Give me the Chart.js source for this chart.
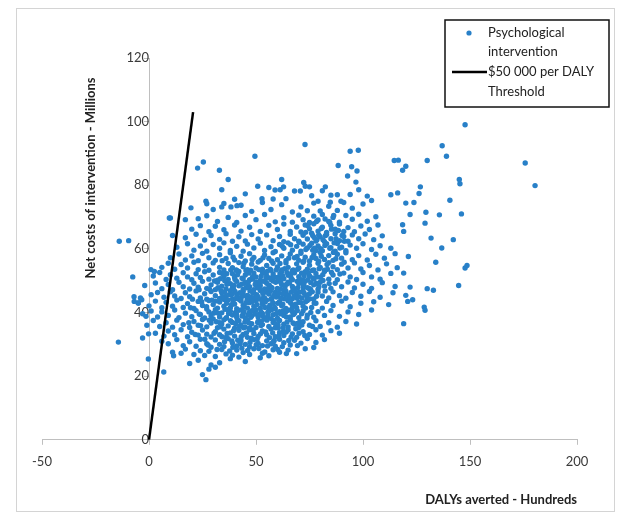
<!DOCTYPE html>
<html>
<head>
<meta charset="utf-8">
<script src="https://cdn.jsdelivr.net/npm/chart.js@4.4.1/dist/chart.umd.min.js"></script>
<style>
  html, body { margin: 0; padding: 0; background: #fff; }
  #wrap { position: relative; width: 619px; height: 512px; }
</style>
</head>
<body>
<div id="wrap"><canvas id="daly-chart" width="619" height="512"></canvas></div>
<script>
const xTickValues = [-50, 0, 50, 100, 150, 200];
const yTickValues = [0, 20, 40, 60, 80, 100, 120];
const xAxisTitle = 'DALYs averted - Hundreds';
const yAxisTitle = 'Net costs of intervention - Millions';
const seriesNames = ['Psychological', 'intervention', '$50 000 per DALY', 'Threshold'];

// threshold line: $50 000 per DALY (x in hundreds of DALYs, y in millions)
const thresholdDalys = [0, 20.6];
const thresholdCosts = [0, 103];

// simulated results as [DALYs averted, net cost]
const outlierPoints = [
    [147.7,99],[137,92.4],[139,89.1],[130,87.8],[120,86],[118.5,84.7],[175.8,87],[180.4,79.9],[145.3,80.5],[145,81.8],
    [126.8,79.5],[126.2,77.4],[123.8,74.6],[140.6,75.3],[122,70.8],[129.4,71.5],[135.7,70.7],[146,71],[129,68.1],[118.5,67.6],
    [119,65.5],[131.8,63.4],[136.8,60.3],[142.2,62.9],[121.2,57.6],[134,55.8],[147.7,54],[148.6,54.8],[119,52.4],[122,48],
    [130,47.5],[132.9,47],[144.7,48.5],[120.9,43.5],[123.2,44],[128.6,41.7],[129,40.7],[119,36.5],
    [72.9,92.8],[49.5,89.1],[94,90.7],[97.8,91],[114.6,87.8],[116.5,87.9],[88.4,86.2],[94.7,85.8],[97.2,84.5],[62,81.8],
    [50.8,79.7],[72.3,80.9],[70.7,78.2],[75,79.5],[92.8,82.9],[96.7,81],[82.4,79.5],[58.9,78.5],[61.3,78.6],[62.9,79.5],
    [113,77],[116.2,77.6],[102,76.6],[104,75.2],[52.8,75.8],[58,75.7],[88,77],[89.7,75],[120,74.4],[79,75],[84.7,74.7],
    [25.4,87.3],[22.7,85.4],[32.9,84.7],[37,81.8],[26.6,75],[27,74.2],[19.6,72.9],[34,73.2],[38.3,73.2],[41.1,73.6],
    [10,69.7],[17,69.2],[9.5,69.7],[11,64.2],
    [-13.9,62.4],[-9.5,62.6],[-7.6,51.2],[0.9,53.5],[2.5,52.9],[-6.9,43.5],[-5,43],[-3.4,44],[-1.4,38.8],[-14.3,30.7],
    [-3,32],[-0.2,33.3],[-0.3,25.4],[6.9,21.3],[11.5,26.4],[26.6,18.9]
];

const cloudPoints = [
    [25,20.5],[28,22.2],[31,22.8],[29,23.5],[19,24],[33,24.2],[45,24.6],[23,25],[38,25.5],[52,25.8],[42,26],
    [11,27.5],[15,27.2],[17,28.5],[21,26.8],[24,28],[26,26.5],[28,27.8],[31,26.2],[34,28.4],[36,27],[39,26.6],[41,28.2],
    [44,27.4],[47,26.8],[49,28.6],[53,27.2],[56,26.4],[58,28.3],[61,27.5],[65,28.2],[69,27.1],[73,28.6],[77,29],
    [6,31],[9,30.2],[13,31.5],[16,29.6],[19,30.8],[22,29.4],[24,31.6],[27,30.2],[29,29.1],[31,31.4],[33,30],[35,29.3],
    [37,31.8],[39,30.4],[41,29.5],[43,31.2],[45,30],[47,29.2],[49,31.5],[51,30.3],[53,29.6],[55,31.1],[57,30.2],[59,29.4],
    [61,31.6],[63,30.5],[66,29.8],[68,31.3],[71,30.4],[74,31.8],[78,30.6],[82,31.5],
    [3,33.5],[7,32.6],[9,34.2],[12,33],[15,34.6],[18,32.4],[20,33.8],[23,32.9],[25,34.5],[27,33.2],[29,32.3],[31,34],
    [33,33],[35,34.8],[36,32.2],[38,33.6],[40,32.6],[42,34.4],[44,33.1],[46,32.2],[47,34.6],[49,33.4],[51,32.5],[53,34.2],
    [55,33],[57,34.8],[59,32.4],[61,33.7],[63,32.8],[65,34.5],[67,33.3],[69,32.2],[72,34],[75,33.1],[78,34.6],[81,32.9],
    [85,34.3],[89,33.5],
    [-1,36],[2,37.5],[5,35.6],[8,36.8],[11,35.4],[13,37.6],[16,36.2],[19,35.3],[21,37.2],[23,36],[25,37.8],[27,35.5],
    [29,36.7],[30,38],[32,35.2],[34,36.4],[35,37.7],[37,35.8],[39,36.9],[40,35.1],[42,37.4],[43,36.1],[45,35.4],[46,37.6],
    [48,36.5],[50,35.3],[51,37.2],[53,36.2],[54,38],[56,35.6],[58,36.9],[59,35.2],[61,37.5],[63,36.3],[65,35.5],[66,37.8],
    [68,36.4],[70,35.3],[72,37.1],[75,36],[78,37.4],[80,35.6],[84,36.8],[88,35.4],[92,37.2],[97,36.4],
    [-3,39.6],[1,40.5],[4,38.6],[6,40.2],[9,39.1],[12,40.8],[14,38.4],[17,39.8],[20,38.7],[22,40.6],[24,39.4],[26,38.3],
    [28,40.2],[29,39],[31,40.9],[33,38.6],[34,39.9],[36,38.2],[38,40.4],[39,39.2],[41,38.5],[42,40.7],[44,39.6],[45,38.3],
    [47,40.1],[48,39],[50,40.8],[51,38.6],[53,39.7],[55,38.4],[56,40.5],[58,39.3],[60,38.2],[61,40.3],[63,39.1],[65,40.7],
    [66,38.6],[68,39.8],[70,38.4],[72,40.5],[74,39.2],[77,38.5],[79,40.3],[82,39.1],[85,40.6],[89,38.8],[93,40.2],[98,39.4],
    [104,40.8],
    [-5,43],[0,42.1],[3,43.6],[6,41.5],[8,43.2],[11,42],[13,43.9],[16,41.6],[18,42.8],[21,41.3],[23,43.5],[25,42.2],
    [27,41.1],[28,43.8],[30,42.5],[32,41.4],[33,43.3],[35,42],[37,43.9],[38,41.5],[40,42.7],[41,41.2],[43,43.6],[44,42.3],
    [46,41.4],[47,43.1],[49,42],[50,43.8],[52,41.3],[53,42.6],[55,43.9],[56,41.7],[58,42.9],[59,41.2],[61,43.4],[62,42.1],
    [64,41.3],[65,43.7],[67,42.4],[69,41.5],[70,43.2],[72,42],[74,43.8],[76,41.6],[78,42.9],[81,41.4],[83,43.5],[86,42.2],
    [90,43.6],[94,41.8],[99,42.9],[105,43.4],[112,42.5],
    [-7,45],[-4,44.6],[1,45.6],[4,46.3],[7,44.8],[10,46.5],[12,45.2],[15,44.4],[17,46.2],[19,45],[22,46.8],[24,44.6],
    [26,45.9],[27,44.2],[29,46.6],[31,45.3],[33,44.4],[34,46.2],[36,45.1],[38,46.9],[39,44.3],[41,45.7],[43,44.5],[44,46.6],
    [46,45.4],[48,44.2],[49,46.1],[51,45],[52,46.9],[54,44.6],[56,45.8],[57,44.2],[59,46.4],[60,45.2],[62,44.5],[64,46.7],
    [65,45.5],[67,44.3],[69,46.2],[70,45],[72,46.8],[74,44.6],[75,45.9],[77,44.3],[79,46.4],[81,45.2],[84,44.6],[86,46.5],
    [89,45.3],[92,44.5],[95,46.3],[99,45.1],[103,46.6],[108,44.8],[114,46.2],[120,45.4],
    [-2,48.5],[3,49.3],[6,47.5],[9,48.8],[11,47.2],[14,49.5],[16,48.1],[19,47.4],[21,49.2],[23,48],[25,49.8],[27,47.6],
    [29,48.7],[31,47.2],[32,49.5],[34,48.3],[36,47.4],[38,49.1],[39,47.9],[41,49.8],[42,48.4],[44,47.3],[45,49.4],[47,48.1],
    [49,47.2],[50,49.6],[52,48.5],[54,47.4],[55,49.2],[57,48],[58,49.9],[60,47.6],[62,48.8],[63,47.2],[65,49.5],[67,48.2],
    [68,47.4],[70,49.1],[72,48],[73,49.8],[75,47.5],[77,48.7],[79,47.3],[80,49.5],[82,48.3],[85,47.6],[87,49.2],[90,48.1],
    [93,49.6],[96,47.7],[100,48.9],[104,47.6],[109,49.4],[115,48.2],
    [2,51.5],[5,52.6],[8,50.4],[10,51.9],[13,50.8],[16,52.5],[18,51.2],[20,50.3],[22,52.2],[24,51],[26,52.8],[28,50.5],
    [30,51.8],[32,50.2],[33,52.6],[35,51.3],[37,50.4],[39,52.2],[40,51],[42,52.9],[44,50.6],[45,51.8],[47,50.3],[49,52.4],
    [50,51.2],[52,50.2],[53,52.7],[55,51.5],[57,50.4],[58,52.1],[60,51],[62,52.9],[63,50.6],[65,51.7],[67,50.3],[68,52.5],
    [70,51.3],[72,50.2],[73,52.8],[75,51.6],[77,50.5],[78,52.3],[80,51.1],[82,52.9],[84,50.5],[86,51.8],[88,50.3],[91,52.4],
    [94,51.2],[97,50.4],[100,52.6],[104,51.2],[108,50.5],[113,52.3],
    [6,54.2],[9,55.5],[12,53.6],[15,55.1],[18,54],[21,55.8],[23,53.5],[26,54.7],[28,53.3],[30,55.6],[33,54.2],[35,53.4],
    [37,55.4],[39,54.1],[41,53.2],[42,55.7],[44,54.4],[46,53.5],[48,55.2],[50,54],[51,55.9],[53,53.6],[55,54.8],[57,53.3],
    [58,55.5],[60,54.3],[62,53.4],[64,55.6],[65,54.2],[67,53.1],[69,55.3],[70,54],[72,55.8],[74,53.6],[75,54.9],[77,53.4],
    [79,55.5],[80,54.2],[82,53.3],[84,55.7],[86,54.4],[88,53.5],[90,55.2],[93,54],[96,55.6],[99,53.7],[103,54.8],[107,53.4],
    [111,55.3],[116,54.1],
    [10,57.2],[14,58.4],[17,56.5],[20,57.8],[23,56.3],[25,58.6],[28,57.2],[31,56.4],[33,58.2],[36,57],[38,58.8],[40,56.5],
    [43,57.7],[45,56.2],[47,58.5],[49,57.3],[52,56.4],[54,58.1],[56,57],[58,58.8],[60,56.6],[62,57.8],[64,56.3],[66,58.4],
    [68,57.2],[70,56.4],[71,58.6],[73,57.4],[75,56.2],[77,58.2],[78,57],[80,58.9],[82,56.7],[84,57.9],[86,56.4],[88,58.3],
    [90,57.1],[92,58.8],[95,56.6],[98,57.9],[102,56.5],[106,58.3],[110,57.1],[115,58.5],
    [13,60.5],[18,61.6],[21,59.6],[24,60.9],[27,59.3],[30,61.4],[33,60.2],[35,61.9],[38,59.5],[41,60.8],[44,59.3],[46,61.5],
    [49,60.3],[52,61.8],[54,59.5],[57,60.7],[59,59.2],[61,61.4],[63,60.2],[65,61.9],[67,59.6],[69,60.8],[71,59.3],[72,61.5],
    [74,60.3],[76,61.8],[78,59.5],[79,60.9],[81,59.4],[83,61.6],[85,60.4],[87,59.3],[88,61.7],[90,60.5],[92,59.4],[94,61.2],
    [97,60.2],[100,61.6],[104,59.8],[108,61],[113,60.2],
    [17,63.5],[22,64.6],[26,62.8],[29,64.2],[33,63],[36,64.8],[39,62.4],[42,63.8],[45,62.5],[48,64.5],[51,63.1],[55,64.4],
    [58,62.6],[61,63.9],[63,62.3],[66,64.6],[68,63.2],[70,62.4],[72,64.3],[74,63.1],[76,64.9],[78,62.5],[80,63.8],[82,62.3],
    [83,64.5],[85,63.2],[87,64.8],[89,62.6],[91,63.9],[93,62.4],[95,64.4],[98,63.2],[101,64.7],[105,62.9],[109,64.1],
    [20,66.2],[24,67.3],[28,65.4],[31,67.1],[35,66],[40,67.5],[43,65.6],[47,66.8],[52,65.5],[56,67.4],[60,66.1],[63,67.8],
    [66,65.5],[69,66.9],[71,65.3],[73,67.5],[75,66.3],[77,67.9],[79,65.6],[81,66.8],[83,65.2],[85,67.4],[87,66.2],[89,67.8],
    [91,65.5],[93,66.7],[96,65.4],[99,67.2],[103,66.1],[107,67.5],
    [23,69.5],[27,70.4],[32,68.6],[37,69.9],[41,68.3],[45,70.5],[50,69.2],[54,70.8],[59,68.5],[63,69.8],[67,68.4],[70,70.6],
    [72,69.2],[75,68.3],[77,70.3],[79,69.1],[81,70.8],[84,68.6],[86,69.9],[89,68.4],[92,70.5],[95,69.3],[98,70.9],[102,68.7],
    [106,70.1],
    [30,72.4],[35,74.3],[43,73.7],[48,71.8],[53,74.6],[57,72.4],[62,73.9],[67,71.6],[71,73.2],[74,72],[77,74.4],[80,71.9],
    [84,73.4],[88,72.1],[91,74.6],[95,72.8],[100,74.1],
    [34,78.6],[40,75.6],[45,77.3],[56,79.3],[64,75.8],[68,78.2],[73,79.7],[76,76.7],[81,78.3],[85,76.9],[94,77.1],[98,78.6]
];

// extra marks in the densest part of the cloud
const corePoints = [
    [40.5,36.5],[43.5,38.9],[46.5,36.9],[49.5,39.5],[52.5,37.3],[55.5,40],[58.5,37.4],[61.5,39.6],[64.5,37],[67.5,39.4],[70.5,37.1],
    [38.5,42.4],[41.5,44.5],[44.5,41.9],[47.5,44.9],[50.5,42.5],[53.5,44.7],[56.5,42.3],[59.5,44.9],[62.5,42.6],[65.5,44.9],
    [68.5,42.6],[71.5,44.6],[39.5,47.4],[42.5,46.2],[45.5,47.8],[48.5,46.3],[51.5,47.6],[54.5,46.4],[57.5,47.7],[60.5,46],
    [63.5,47.9],[66.5,46.4],[69.5,47.8],[72.5,46.1],[75.5,47.3],[43.5,50.8],[46.5,49.7],[51.5,49.2],[56.5,50.9],[61.5,49.5],
    [66.5,50.8],[71.5,49.3],[76.5,50.9],[47.5,53.3],[53.5,52.4],[59.5,53.4],[64.5,52.6],[69.5,53.6],[74.5,52.4],[79.5,53.8],
    [36.5,33.4],[41.5,31.3],[45.5,33.6],[50.5,31.6],[54.5,33.9],[58.5,31.2],[62.5,33.8],
    [76.5,59.6],[80.5,57.7],[84.5,60.2],[78.5,62.9],[82.5,64.2],[86.5,61.9],[80.5,66.4],[84.5,68.3],[88.5,65.8],[76.5,64.2],
    [33.5,35.5],[39.5,34.3],[44.2,35.2],[48.7,34.5],[52.3,35.9],[57.8,33.6],[60.4,35.1],[64.1,33.9],[68.6,34.9],[72.8,32.8],
    [31.5,37.1],[36.2,38.4],[41.3,37.7],[44.8,37],[47.6,38.5],[53.2,38.8],[57.1,38.1],[60.3,36.1],[64.2,38.6],[69.4,36.6],
    [73.8,38.3],[76.4,35.6],
    [30.2,39.8],[35.5,41],[37.2,39.7],[40.4,40],[43.4,40.9],[46.3,39.3],[49.2,41.1],[52.4,40.1],[54.2,41.6],[57.3,40.9],
    [59.6,39.7],[62.8,40.6],[66.8,41.2],[69.3,40.6],[73.1,41.4],[75.6,40],
    [29.4,43.9],[34.2,44.8],[36.3,42.9],[39.3,43.2],[42.2,44.1],[45.3,43.1],[48.3,43.5],[51.2,44.3],[54.3,43.3],[57.4,44.4],
    [60.2,42.9],[63.4,44.3],[66.2,43],[69.2,44.5],[73.2,43.4],[77.2,43],
    [32.2,47.8],[35.3,46.4],[37.4,45.6],[40.2,46.6],[43.3,45.7],[47.2,46.8],[50.3,45.6],[53.2,46],[55.4,47.5],[58.3,45.4],
    [61.3,47.3],[64.1,45.5],[67.3,47.4],[70.4,46.4],[73.3,45.4],[76.3,46.5],[78.3,45.1],[82.3,46.8],
    [33.3,50.6],[36.4,48.9],[40.2,50.4],[43.2,48.9],[46.4,48.2],[48.3,50.5],[53.3,49.8],[56.2,48.6],[59.2,49.5],[61.3,50.8],
    [64.3,48.9],[69.2,49.8],[72.4,48.6],[74.2,50.3],[78.2,49.2],[81.3,50.1],[84.2,49.1],
    [36.3,52.2],[38.2,53.4],[41.4,51.9],[45.3,53.2],[48.4,51.3],[51.3,53.5],[55.2,52.9],[58.4,51.2],[61.2,52.2],[63.4,53.8],
    [66.3,52.1],[71.3,52.4],[76.3,53.2],[81.2,51.9],[85.3,52.6],[89.2,52.1],
    [34.2,56.3],[39.3,57.4],[44.3,55.5],[48.2,56.6],[53.3,57.2],[57.3,56.2],[61.2,55.4],[65.3,57.1],[69.2,57.6],[72.3,56.2],
    [76.2,57.3],[79.3,56.1],[83.2,55.1],[87.3,56.9],[91.2,55.8],
    [62.3,60.8],[66.2,61.3],[70.2,62.1],[73.3,59.8],[75.2,61.1],[77.3,60.2],[80.2,60.1],[82.2,61.1],[86.2,58.9],[89.2,60.3],
    [91.3,62.4],[73.2,65.2],[77.2,63.6],[79.3,64.4],[81.3,62.9],[85.3,66.2],[87.4,63.2],[90.2,64.2],[74.3,67.3],[78.3,68.6],
    [82.3,69.4],[86.3,70.5],
    [35.3,30.8],[39.2,29.1],[43.4,28.8],[47.2,30.6],[51.3,28.7],[55.4,29.5],[58.2,30.8],[62.3,29.3],[65.3,31.2],[69.4,29.6],
    [27.6,29.8],[31.8,28.4],[37.7,27.9],[42.6,30.2],[46.1,28.1],[50.1,29.9],[54.1,27.6],[60.2,28.4],[64.2,27.1],
    [21.6,33.1],[26.1,31.6],[30.4,33.5],[34.1,32.4],[38.7,31.1],[43.1,32.4],[47.8,31.9],[52.1,33.3],[56.3,32.1],[60.6,32.6],
    [66.4,32.3],[70.1,33.5],
    [18.6,36.8],[24.1,35.9],[28.2,37.6],[33.1,36.8],[38.1,37.4],[42.1,35.6],[47.1,35.2],[50.8,36.9],[55.1,37.6],[59.2,36.4],
    [62.7,35.2],[67.3,36.7],[71.4,36.1],
    [19.4,41.5],[23.5,39.5],[26.9,41.8],[32.4,39.8],[36.9,40.9],[40.9,39.4],[44.4,40.3],[48.1,40.6],[51.4,39.5],[55.6,39.2],
    [58.7,41.6],[63.8,40.2],[67.1,40.2],[71.3,39.6],
    [20.3,44.2],[24.6,43.4],[31.1,43.6],[35.1,44.1],[40.6,44.4],[45.9,44.1],[49.7,44.8],[52.8,43.6],[57.9,43.1],[61.6,44.6],
    [67.9,45.3],[71.1,43.1],[75.3,44.3],
    [23.4,47.2],[28.3,47.3],[33.6,46.9],[38.6,45.7],[44.6,45.3],[50.6,47.9],[56.7,46.7],[62.6,45.9],[68.2,46.9],[74.1,47.8],
    [30.6,49.9],[35.4,50],[39.6,48.6],[44.7,49.2],[49.6,48.8],[54.7,50.7],[60.4,50.4],[65.6,49.3],[70.3,50.6],[75.6,49.4],
    [79.4,48.1],
    [34.4,52.2],[40.7,53.4],[46.7,52.4],[52.4,51.4],[56.6,53.6],[62.4,51.6],[67.4,53.4],[72.5,51.6],[78.5,51.2],[83.4,53.6]
];

const pointBlue = 'rgb(40,128,200)';
const axisGray = '#bfbfbf';
const labelGray = '#3a3a3a';
const fontFamily = 'Lato, "Open Sans", sans-serif';

// frame, rotated y title and the boxed legend
const extrasPlugin = {
    id: 'extras',
    beforeDraw: function (chart) {
        const ctx = chart.ctx;
        ctx.save();
        ctx.fillStyle = '#ffffff';
        ctx.fillRect(0, 0, chart.width, chart.height);
        ctx.strokeStyle = '#d4d4d4';
        ctx.lineWidth = 1;
        ctx.strokeRect(16.5, 8.5, 598, 503);
        ctx.restore();
    },
    afterDraw: function (chart) {
        const ctx = chart.ctx;
        ctx.save();
        ctx.translate(91, 178);
        ctx.rotate(-Math.PI / 2);
        ctx.font = 'bold 13px ' + fontFamily;
        ctx.fillStyle = '#222';
        ctx.textAlign = 'center';
        ctx.textBaseline = 'middle';
        ctx.fillText(yAxisTitle, 0, 0);
        ctx.restore();

        ctx.save();
        ctx.fillStyle = '#ffffff';
        ctx.fillRect(445, 20, 164, 87);
        ctx.strokeStyle = '#111';
        ctx.lineWidth = 1.5;
        ctx.strokeRect(445, 20, 164, 87);
        ctx.fillStyle = pointBlue;
        ctx.beginPath();
        ctx.arc(469, 33, 2.6, 0, Math.PI * 2);
        ctx.fill();
        ctx.strokeStyle = '#000';
        ctx.lineWidth = 2.5;
        ctx.beginPath();
        ctx.moveTo(452, 72);
        ctx.lineTo(487, 72);
        ctx.stroke();
        ctx.font = '13px ' + fontFamily;
        ctx.fillStyle = '#222';
        ctx.textBaseline = 'middle';
        ctx.fillText(seriesNames[0], 488, 33);
        ctx.fillText(seriesNames[1], 488, 52);
        ctx.fillText(seriesNames[2], 488, 72);
        ctx.fillText(seriesNames[3], 488, 92);
        ctx.restore();
    }
};

new Chart(document.getElementById('daly-chart').getContext('2d'), {
    type: 'scatter',
    data: {
        datasets: [{
            label: seriesNames[2] + ' ' + seriesNames[3],
            data: thresholdDalys.map((x, i) => ({ x: x, y: thresholdCosts[i] })),
            showLine: true,
            borderColor: '#000',
            borderWidth: 2.5,
            pointRadius: 0,
            order: 0
        }, {
            label: seriesNames[0] + ' ' + seriesNames[1],
            data: outlierPoints.concat(cloudPoints, corePoints).map(p => ({ x: p[0], y: p[1] })),
            backgroundColor: pointBlue,
            pointRadius: 2.7,
            pointBorderWidth: 0,
            order: 1
        }]
    },
    options: {
        responsive: false,
        animation: false,
        events: [],
        layout: { padding: { left: 42, right: 42, top: 58, bottom: 0 } },
        plugins: {
            legend: { display: false },
            tooltip: { enabled: false }
        },
        scales: {
            x: {
                type: 'linear',
                position: 'bottom',
                min: -50,
                max: 200,
                afterBuildTicks: axis => { axis.ticks = xTickValues.map(v => ({ value: v })); },
                grid: { drawOnChartArea: false, drawTicks: true, tickLength: 5, color: axisGray },
                border: { display: true, color: axisGray, width: 1 },
                ticks: { padding: 9, color: labelGray, font: { family: fontFamily, size: 13 } },
                title: {
                    display: true,
                    text: xAxisTitle,
                    align: 'end',
                    color: '#222',
                    font: { family: fontFamily, size: 13, weight: 'bold' },
                    padding: { top: 14, bottom: 4 }
                }
            },
            y: {
                type: 'linear',
                position: { x: 0 },
                min: 0,
                max: 120,
                afterBuildTicks: axis => { axis.ticks = yTickValues.map(v => ({ value: v })); },
                grid: { drawOnChartArea: false, drawTicks: true, tickLength: 5, color: axisGray },
                border: { display: true, color: axisGray, width: 1 },
                ticks: { padding: 3, color: labelGray, font: { family: fontFamily, size: 13 } }
            }
        }
    },
    plugins: [extrasPlugin]
});
</script>
</body>
</html>
